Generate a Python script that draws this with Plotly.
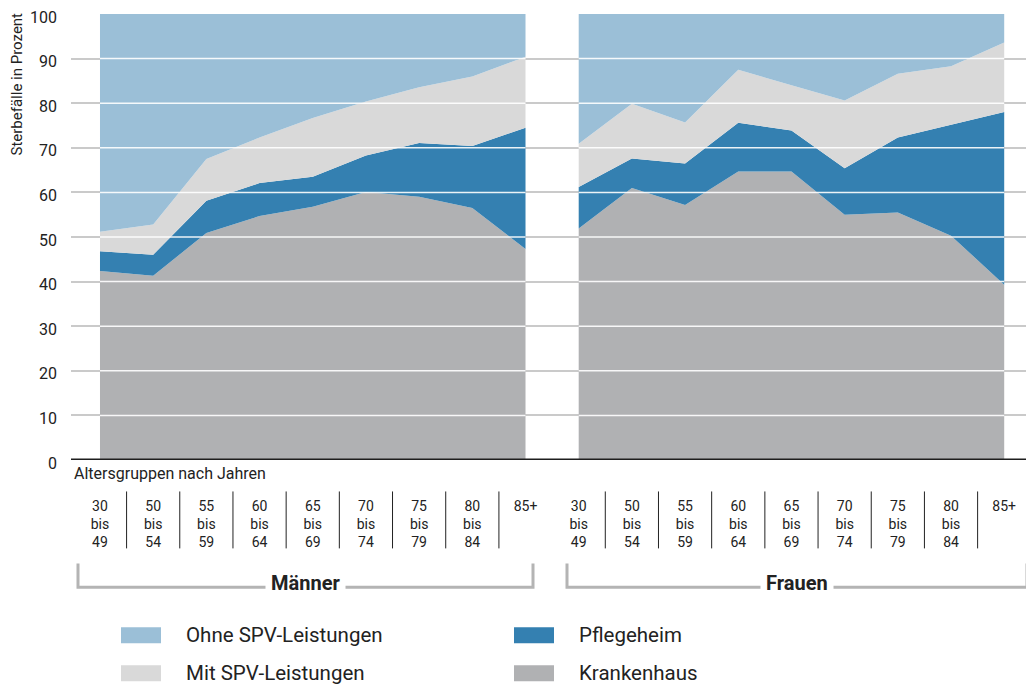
import plotly.graph_objects as go

# ---------------- data ----------------
age_labels = ["30<br>bis<br>49", "50<br>bis<br>54", "55<br>bis<br>59", "60<br>bis<br>64",
              "65<br>bis<br>69", "70<br>bis<br>74", "75<br>bis<br>79", "80<br>bis<br>84", "85+"]
groups = ["Männer", "Frauen"]
series_names = ["Krankenhaus", "Pflegeheim", "Mit SPV-Leistungen", "Ohne SPV-Leistungen"]

men_krankenhaus = [42.4, 41.3, 50.9, 54.7, 56.8, 60.1, 59.0, 56.5, 47.3]
men_pflegeheim = [4.4, 4.7, 7.2, 7.4, 6.7, 8.2, 12.1, 13.9, 27.2]
men_mit_spv = [4.4, 6.8, 9.4, 10.2, 13.2, 12.1, 12.5, 15.6, 15.9]
men_ohne_spv = [48.8, 47.2, 32.5, 27.7, 23.3, 19.6, 16.4, 14.0, 9.6]

women_krankenhaus = [51.9, 61.0, 57.2, 64.7, 64.7, 55.0, 55.5, 50.3, 39.3]
women_pflegeheim = [9.3, 6.6, 9.3, 10.9, 9.2, 10.4, 16.8, 24.8, 38.7]
women_mit_spv = [9.7, 12.3, 9.2, 11.9, 10.1, 15.2, 14.3, 13.2, 15.6]
women_ohne_spv = [29.1, 20.1, 24.3, 12.5, 16.0, 19.4, 13.4, 11.7, 6.4]

y_ticks = [0, 10, 20, 30, 40, 50, 60, 70, 80, 90, 100]

# ---------------- style ----------------
colors = {
    "Ohne SPV-Leistungen": "#9bbfd7",
    "Mit SPV-Leistungen": "#d9d9d9",
    "Pflegeheim": "#3480b1",
    "Krankenhaus": "#b0b1b3",
}
FONT = "Roboto"
TXT = "#222222"

n = len(age_labels)
x_men = list(range(n))
x_women = [n + i for i in range(n)]

data = {
    "Männer": dict(zip(series_names, [men_krankenhaus, men_pflegeheim, men_mit_spv, men_ohne_spv])),
    "Frauen": dict(zip(series_names, [women_krankenhaus, women_pflegeheim, women_mit_spv, women_ohne_spv])),
}
xpos = {"Männer": x_men, "Frauen": x_women}

fig = go.Figure()
for g in groups:
    for s in series_names:
        fig.add_trace(go.Scatter(
            x=xpos[g], y=data[g][s], mode="lines", stackgroup=g,
            line=dict(width=0, color=colors[s]), fillcolor=colors[s],
            name=s, showlegend=False, hoverinfo="skip"))

# page geometry (the page body has an 8px margin)
OFF = 8
PAGE_W, PAGE_H = 1034, 685
W, H = PAGE_W - OFF, PAGE_H - OFF
PL, PR, PT, PB = 71, 1034, 14, 460.5          # plot area in page pixels
L, R, T, B = PL - OFF, PAGE_W - PR, PT - OFF, PAGE_H - PB
plot_w, plot_h = PR - PL, PB - PT

def py(p):
    return (PB - p) / plot_h

def px(p):
    return (p - PL) / plot_w

shapes = []
# white grid lines over the areas
for g in groups:
    for v in y_ticks[1:-1]:
        shapes.append(dict(type="line", xref="x", yref="y", x0=xpos[g][0], x1=xpos[g][-1],
                           y0=v, y1=v, line=dict(color="rgba(255,255,255,0.9)", width=1.5),
                           layer="above"))
# zero line
shapes.append(dict(type="line", xref="paper", yref="y", x0=0, x1=1, y0=0, y1=0,
                   line=dict(color="#1e1e1e", width=3), layer="above"))
# separators between the age labels
for g in groups:
    xs = xpos[g]
    for i in range(len(xs) - 1):
        xm = (xs[i] + xs[i + 1]) / 2
        shapes.append(dict(type="line", xref="x", yref="paper", x0=xm, x1=xm,
                           y0=py(492), y1=py(549), line=dict(color="#222222", width=1)))
# brackets
bracket_px = {"Männer": (78, 533), "Frauen": (567, 1027)}
for g in groups:
    a, b = bracket_px[g]
    xa, xb = px(a), px(b)
    shapes.append(dict(type="path", xref="paper", yref="paper",
                       path=f"M {xa} {py(564)} L {xa} {py(588)} L {xb} {py(588)} L {xb} {py(564)}",
                       line=dict(color="#b4b4b4", width=3)))

annotations = []
for g in groups:
    a, b = bracket_px[g]
    annotations.append(dict(text=f"<b>{g}</b>", xref="paper", yref="paper", x=px((a + b) / 2),
                            y=py(584), xanchor="center", yanchor="middle", showarrow=False,
                            bgcolor="white", borderpad=5,
                            font=dict(family=FONT, size=20, color=TXT)))
annotations.append(dict(text="Altersgruppen nach Jahren", xref="paper", yref="paper",
                        x=px(72), y=py(474), xanchor="left", yanchor="middle",
                        showarrow=False, font=dict(family=FONT, size=16, color=TXT)))
annotations.append(dict(text="Sterbefälle in Prozent", xref="paper", yref="paper",
                        x=px(17), y=py(11), xanchor="center", yanchor="top",
                        textangle=-90, showarrow=False,
                        font=dict(family=FONT, size=15, color=TXT)))

# manual two-column legend
legend_items = [("Ohne SPV-Leistungen", 121, 636), ("Mit SPV-Leistungen", 121, 674),
                ("Pflegeheim", 514, 636), ("Krankenhaus", 514, 674)]
for name, lx, ly in legend_items:
    shapes.append(dict(type="rect", xref="paper", yref="paper", x0=px(lx), x1=px(lx + 40),
                       y0=py(ly - 8), y1=py(ly + 8), fillcolor=colors[name],
                       line=dict(width=0)))
    annotations.append(dict(text=name, xref="paper", yref="paper",
                            x=px(lx + 63), y=py(ly), xanchor="left",
                            yanchor="middle", showarrow=False,
                            font=dict(family=FONT, size=20.5, color=TXT)))

fig.update_layout(
    width=W, height=H, margin=dict(l=L, r=R, t=T, b=B, autoexpand=False),
    paper_bgcolor="white", plot_bgcolor="white",
    showlegend=False, shapes=shapes, annotations=annotations,
    font=dict(family=FONT, color=TXT),
)
fig.update_xaxes(range=[-0.545, 17.56], tickmode="array", tickvals=x_men + x_women,
                 ticktext=age_labels + age_labels, showgrid=False, zeroline=False,
                 showline=False, ticks="", ticklabelstandoff=36,
                 tickfont=dict(family=FONT, size=14, color=TXT), fixedrange=True)
fig.update_yaxes(range=[0, 100], tickvals=y_ticks, showgrid=True, gridcolor="#cacaca",
                 gridwidth=1.5, zeroline=False, showline=False, ticks="",
                 ticklabelstandoff=13, ticklabelshift=3, ticklabeloverflow="allow",
                 tickfont=dict(family=FONT, size=16, color=TXT), fixedrange=True)

fig.write_html("out.html")
